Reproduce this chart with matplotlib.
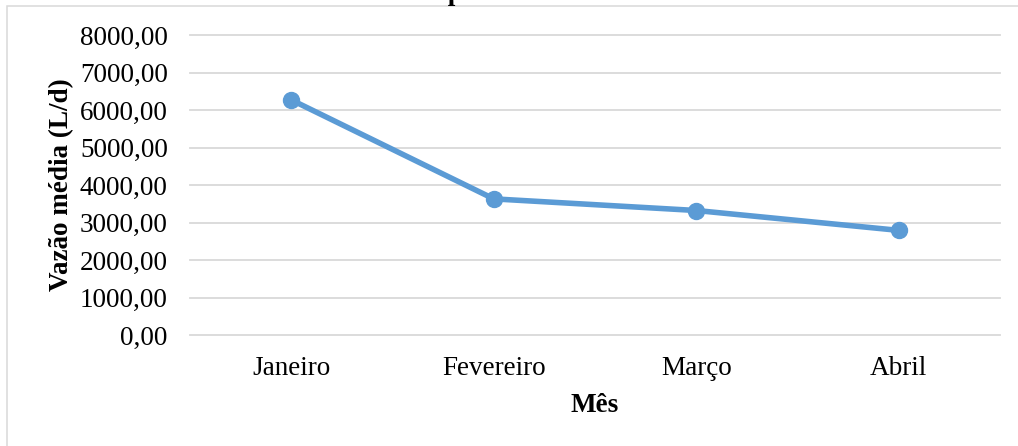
import matplotlib.pyplot as plt
from matplotlib.patches import Rectangle
from matplotlib.ticker import FuncFormatter

meses = ['Janeiro', 'Fevereiro', 'Março', 'Abril']
vazao = [6270, 3630, 3320, 2790]

plt.rcParams['font.family'] = ['Liberation Serif', 'DejaVu Serif']

W, H = 1018, 446
fig = plt.figure(figsize=(W / 100, H / 100), dpi=100)
ax = fig.add_axes([190 / W, 1 - 335 / H, 810 / W, 300 / H])

# chart area border
fig.patches.append(Rectangle((7 / W, -0.1), 1.2, 1 - 6 / H + 0.1, transform=fig.transFigure,
                             fill=False, edgecolor='#D9D9D9', linewidth=1.1, zorder=0))

x = list(range(len(meses)))
ax.plot(x, vazao, color='#5B9BD5', linewidth=4, marker='o', markersize=11.5,
        solid_capstyle='round', zorder=3)

ax.set_xlim(-0.5, len(meses) - 0.5)
ax.set_ylim(0, 8000)
ax.set_yticks(range(0, 8001, 1000))
ax.yaxis.set_major_formatter(FuncFormatter(lambda v, p: f'{v:.2f}'.replace('.', ',')))
ax.set_xticks(x)
ax.set_xticklabels(meses)
ax.grid(axis='y', color='#D9D9D9', linewidth=1.3)
for gl in ax.get_ygridlines():
    gl.set_clip_on(False)
ax.set_axisbelow(True)
for s in ax.spines.values():
    s.set_visible(False)
ax.tick_params(length=0, labelsize=19.5)
ax.tick_params(axis='y', pad=16)
ax.tick_params(axis='x', pad=15)

ax.set_ylabel('Vazão média (L/d)', fontsize=19.5, fontweight='bold', labelpad=4)
ax.set_xlabel('Mês', fontsize=19.5, fontweight='bold', labelpad=9)

# title sits above the top edge, only its descenders show
fig.text(294 / W, 1 + 0.5 / H, 'Vazão média por mês', fontsize=19.5, fontweight='bold',
         ha='left', va='baseline')

fig.savefig('out.png', dpi=100)
